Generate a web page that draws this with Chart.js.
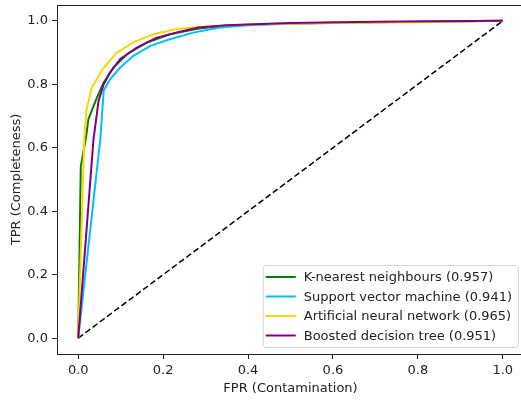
<!DOCTYPE html>
<html>
<head>
<meta charset="utf-8">
<script src="https://cdn.jsdelivr.net/npm/chart.js@4.4.1/dist/chart.umd.min.js"></script>
<style>
    html, body { margin: 0; padding: 0; background: #fff; overflow: hidden; }
    #wrap { width: 521px; height: 401px; overflow: hidden; }
</style>
</head>
<body>
<div id="wrap"><canvas id="roc" width="530" height="401"></canvas></div>
<script>
// ================= DATA =================
const modelNames = [
    "K-nearest neighbours (0.957)",
    "Support vector machine (0.941)",
    "Artificial neural network (0.965)",
    "Boosted decision tree (0.951)"
];
const modelColors = ["#008000", "#00bfff", "#ffd700", "#800080"];

const knnFpr = [0, 0.006, 0.018, 0.024, 0.044, 0.06, 0.083, 0.115, 0.162, 0.216, 0.28, 0.35, 0.45, 0.6, 0.8, 1];
const knnTpr = [0, 0.54, 0.63, 0.69, 0.758, 0.806, 0.853, 0.895, 0.932, 0.958, 0.975, 0.985, 0.99, 0.994, 0.997, 1];

const svmFpr = [0, 0.052, 0.06, 0.075, 0.099, 0.13, 0.17, 0.216, 0.271, 0.33, 0.4, 0.5, 0.7, 1];
const svmTpr = [0, 0.627, 0.78, 0.816, 0.853, 0.89, 0.921, 0.942, 0.963, 0.978, 0.986, 0.991, 0.996, 1];

const annFpr = [0, 0.014, 0.019, 0.032, 0.06, 0.091, 0.13, 0.177, 0.232, 0.283, 0.35, 0.45, 0.6, 0.8, 1];
const annTpr = [0, 0.62, 0.717, 0.79, 0.853, 0.90, 0.932, 0.958, 0.974, 0.981, 0.986, 0.99, 0.993, 0.996, 1];

const bdtFpr = [0, 0.036, 0.048, 0.06, 0.075, 0.099, 0.138, 0.185, 0.24, 0.283, 0.35, 0.5, 0.7, 1];
const bdtTpr = [0, 0.627, 0.748, 0.80, 0.837, 0.88, 0.916, 0.947, 0.966, 0.979, 0.986, 0.993, 0.997, 1];

const chanceFpr = [0, 1];
const chanceTpr = [0, 1];

const tickValues = [0, 0.2, 0.4, 0.6, 0.8, 1.0];
const axisMin = -0.05;
const axisMax = 1.05;

const FONT = "'DejaVu Sans', sans-serif";


// ================= HELPERS =================
function toPoints(xs, ys) {
    return xs.map((x, i) => ({ x: x, y: ys[i] }));
}

function curve(idx, xs, ys, order) {
    return {
        label: modelNames[idx],
        data: toPoints(xs, ys),
        borderColor: modelColors[idx],
        backgroundColor: modelColors[idx],
        borderWidth: 2,
        pointRadius: 0,
        tension: 0,
        order: order
    };
}

function noEdgePadding(scale) {
    scale.paddingTop = 0;
    scale.paddingBottom = 0;
    scale.paddingLeft = 0;
    scale.paddingRight = 0;
}


// ================= FRAME + LEGEND PLUGIN =================
const frameLegend = {
    id: "frameLegend",
    afterDraw(chart) {
        const ctx = chart.ctx;
        const area = chart.chartArea;

        ctx.save();
        ctx.strokeStyle = "#222";
        ctx.lineWidth = 1;
        ctx.strokeRect(Math.round(area.left) + 0.5, Math.round(area.top) + 0.5,
            Math.round(area.right - area.left), Math.round(area.bottom - area.top));

        // legend box, lower right
        ctx.font = "13px " + FONT;
        const entries = chart.data.datasets.filter(d => d.label);
        let textW = 0;
        entries.forEach(d => { textW = Math.max(textW, ctx.measureText(d.label).width); });

        const rowH = 19.5;
        const boxW = 41 + textW + 6;
        const boxH = 82;
        const right = area.right - 6;
        const bottom = area.bottom - 7;
        const left = right - boxW;
        const top = bottom - boxH;

        ctx.beginPath();
        ctx.roundRect(left + 0.5, top + 0.5, boxW, boxH, 3);
        ctx.fillStyle = "rgba(255,255,255,0.8)";
        ctx.fill();
        ctx.strokeStyle = "#d6d6d6";
        ctx.lineWidth = 1;
        ctx.stroke();

        ctx.textBaseline = "middle";
        ctx.textAlign = "left";
        entries.forEach((d, i) => {
            const y = top + 12 + i * rowH;
            ctx.beginPath();
            ctx.moveTo(left + 3, y);
            ctx.lineTo(left + 33, y);
            ctx.strokeStyle = d.borderColor;
            ctx.lineWidth = 2;
            ctx.stroke();
            ctx.fillStyle = "#222";
            ctx.fillText(d.label, left + 41, y + 1);
        });
        ctx.restore();
    }
};


// ================= CHART =================
const axisCommon = {
    type: "linear",
    min: axisMin,
    max: axisMax,
    afterBuildTicks: scale => {
        scale.ticks = tickValues.map(v => ({ value: v }));
    },
    grid: {
        display: true,
        drawOnChartArea: false,
        drawTicks: true,
        tickLength: 5,
        tickWidth: 1,
        color: "#222"
    },
    border: { display: false },
    ticks: {
        color: "#222",
        font: { family: FONT, size: 13 },
        padding: 4,
        callback: v => Number(v).toFixed(1)
    }
};

new Chart(document.getElementById("roc"), {
    type: "line",
    data: {
        datasets: [
            curve(0, knnFpr, knnTpr, 3),
            curve(1, svmFpr, svmTpr, 2),
            curve(2, annFpr, annTpr, 1),
            curve(3, bdtFpr, bdtTpr, 0),
            {
                label: "",
                data: toPoints(chanceFpr, chanceTpr),
                borderColor: "#000",
                borderWidth: 1.5,
                borderDash: [6, 3],
                pointRadius: 0,
                order: 4
            }
        ]
    },
    plugins: [frameLegend],
    options: {
        responsive: false,
        animation: false,
        layout: { padding: { top: 5, right: 6, left: 0, bottom: 0 } },
        plugins: {
            legend: { display: false },
            tooltip: { enabled: false }
        },
        scales: {
            x: {
                ...axisCommon,
                afterFit: scale => { scale.height = 47; noEdgePadding(scale); },
                title: {
                    display: true,
                    text: "FPR (Contamination)",
                    color: "#222",
                    font: { family: FONT, size: 13 },
                    padding: { top: 5, bottom: 5 }
                }
            },
            y: {
                ...axisCommon,
                afterFit: scale => { scale.width = 57; noEdgePadding(scale); },
                title: {
                    display: true,
                    text: "TPR (Completeness)",
                    color: "#222",
                    font: { family: FONT, size: 13 },
                    padding: { top: 9, bottom: 9 }
                }
            }
        }
    }
});
</script>
</body>
</html>
